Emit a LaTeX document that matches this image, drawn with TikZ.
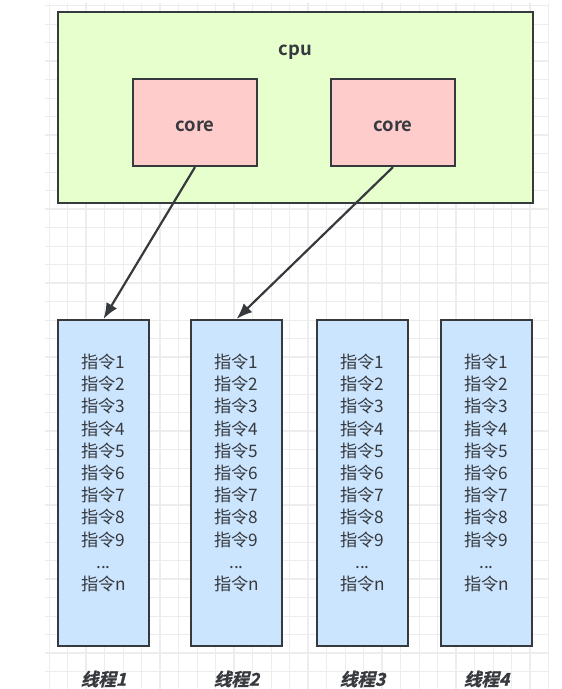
\documentclass[tikz,border=0pt]{standalone}
\usepackage{fontspec}
\usepackage{tikz}
\usetikzlibrary{arrows.meta}
\newfontfamily\cjk[BoldFont={Noto Sans CJK SC Bold}]{Noto Sans CJK SC}
\newfontfamily\cjkslant[FakeSlant=0.25,FakeBold=1.2]{Noto Sans CJK SC Bold}
\definecolor{linegray}{HTML}{36393D}
\definecolor{cpugreen}{HTML}{E6FFCC}
\definecolor{corepink}{HTML}{FFCCCC}
\definecolor{threadblue}{HTML}{CCE5FF}
\definecolor{gridgray}{HTML}{EDEDED}
\tikzset{
  corebox/.style={draw=linegray,line width=1.25pt,fill=corepink,minimum width=2.48cm,minimum height=1.74cm,inner sep=0pt,text=linegray,text height=10.5pt,text depth=0pt,font=\cjk\bfseries\fontsize{10.5}{12}\selectfont},
  threadbox/.style={draw=linegray,line width=1.25pt,fill=threadblue,minimum width=1.82cm,minimum height=6.52cm,inner sep=0pt},
  cmdlist/.style={align=center,inner sep=0pt,text=linegray,font=\cjk\fontsize{9.8}{12.63}\selectfont},
  threadname/.style={inner sep=0pt,text=linegray,font=\cjkslant\fontsize{10}{12}\selectfont}
}
\begin{document}
\begin{tikzpicture}[x=.02cm,y=-.02cm]
    \useasboundingbox (0,0) rectangle (561,689);
    \fill[white] (0,0) rectangle (561,689);
    % background grid
    \foreach \i in {0,...,27}
      \draw[gridgray,line width=.35pt] (49+18.5*\i,3)--(49+18.5*\i,689);
    \foreach \i in {0,...,36}
      \draw[gridgray,line width=.35pt] (45,5.5+18.5*\i)--(548,5.5+18.5*\i);
    \foreach \i in {0,...,6}
      \draw[gridgray,line width=.8pt] (86+74*\i,3)--(86+74*\i,689);
    \foreach \i in {0,...,8}
      \draw[gridgray,line width=.8pt] (45,61+74*\i)--(548,61+74*\i);
    % cpu with its cores
    \node[draw=linegray,line width=1.25pt,fill=cpugreen,minimum width=9.5cm,minimum height=3.82cm,inner sep=0pt] (cpu) at (295.5,107.5) {};
    \node[inner sep=0pt,text=linegray,font=\cjk\bfseries\fontsize{10.5}{12}\selectfont] (cpulabel) at (295.5,52) {cpu};
    \node[corebox] (core1) at (195,122.5) {core};
    \node[corebox] (core2) at (393,122.5) {core};
    % threads
    \foreach \n/\x in {1/103.5,2/236.5,3/362.5,4/486.5} {
      \node[threadbox] (thread\n) at (\x,483) {};
      \node[cmdlist] (cmds\n) at (\x,473) {指令1\\指令2\\指令3\\指令4\\指令5\\指令6\\指令7\\指令8\\指令9\\...\\指令n};
      \node[threadname] (name\n) at (\x,679) {线程\n};
    }
    \draw[-{Latex[length=9pt,width=7pt]},line width=1.25pt,linegray] (core1.south)--(thread1.north);
    \draw[-{Latex[length=9pt,width=7pt]},line width=1.25pt,linegray] (core2.south)--(thread2.north);
  \end{tikzpicture}
\end{document}
